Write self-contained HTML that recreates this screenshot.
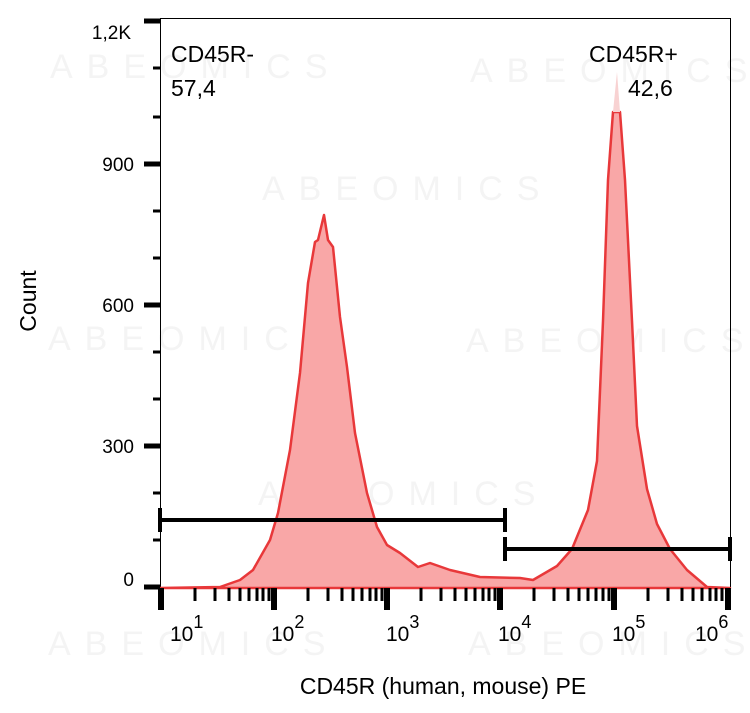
<!DOCTYPE html>
<html><head><meta charset="utf-8"><style>
html,body{margin:0;padding:0;background:#fff;}
svg{display:block;font-family:"Liberation Sans",Arial,sans-serif;}
</style></head><body>
<svg width="750" height="713" viewBox="0 0 750 713" xmlns="http://www.w3.org/2000/svg">
<g fill="#f4f4f4" font-size="34" letter-spacing="14">
<text x="50" y="78">ABEOMICS</text>
<text x="470" y="82">ABEOMICS</text>
<text x="262" y="200">ABEOMICS</text>
<text x="48" y="350">ABEOMICS</text>
<text x="466" y="352">ABEOMICS</text>
<text x="258" y="505">ABEOMICS</text>
<text x="48" y="655">ABEOMICS</text>
<text x="468" y="655">ABEOMICS</text>
</g>
<rect x="160.5" y="18.5" width="570" height="570" fill="none" stroke="#000" stroke-width="1"/>
<path d="M160,588 L220,587 240,580 253,570 270,540 278,513 290,450 300,373 308,283 315,242 318,240 324,215 328,240 333,247 340,317 347,367 355,433 367,493 377,527 387,545 400,553 418,567 430,563 450,570 480,577 520,578 533,580 557,566 572,549 588,510 597,461 603,321 608,180 613,112 620,112 625,180 632,321 637,426 647,489 657,524 670,549 687,570 707,587 730,588 L730,588 Z" fill="#f9a7a7" stroke="#e8383a" stroke-width="2.5" stroke-linejoin="round"/>
<path d="M613,112 L617,72 620,112 Z" fill="#f8d2d2"/>
<g stroke="#000" stroke-width="4">
<line x1="160" y1="520" x2="505" y2="520"/>
<line x1="160" y1="508" x2="160" y2="532"/>
<line x1="505" y1="508" x2="505" y2="532"/>
<line x1="505" y1="549" x2="730" y2="549"/>
<line x1="505" y1="537" x2="505" y2="561"/>
<line x1="730" y1="537" x2="730" y2="561"/>
</g>
<g stroke="#000">
<g stroke-width="5">
<line x1="144" y1="587" x2="160" y2="587"/>
<line x1="144" y1="446" x2="160" y2="446"/>
<line x1="144" y1="305" x2="160" y2="305"/>
<line x1="144" y1="164" x2="160" y2="164"/>
<line x1="144" y1="21" x2="160" y2="21"/>
</g>
<g stroke-width="3">
<line x1="153" y1="540" x2="160" y2="540"/>
<line x1="153" y1="493" x2="160" y2="493"/>
<line x1="153" y1="399" x2="160" y2="399"/>
<line x1="153" y1="352" x2="160" y2="352"/>
<line x1="153" y1="258" x2="160" y2="258"/>
<line x1="153" y1="211" x2="160" y2="211"/>
<line x1="153" y1="117" x2="160" y2="117"/>
<line x1="153" y1="68" x2="160" y2="68"/>
</g>
</g>
<g font-size="19" text-anchor="end" fill="#000">
<text x="134" y="586">0</text>
<text x="134" y="453">300</text>
<text x="134" y="312">600</text>
<text x="134" y="171">900</text>
<text x="131" y="39">1,2K</text>
</g>
<text transform="translate(36,301) rotate(-90)" font-size="23" text-anchor="middle">Count</text>
<g font-size="21" fill="#000">
<text x="170" y="641">10<tspan dy="-13" font-size="18">1</tspan></text>
<text x="271" y="641">10<tspan dy="-13" font-size="18">2</tspan></text>
<text x="386" y="641">10<tspan dy="-13" font-size="18">3</tspan></text>
<text x="498" y="641">10<tspan dy="-13" font-size="18">4</tspan></text>
<text x="612" y="641">10<tspan dy="-13" font-size="18">5</tspan></text>
<text x="695" y="641">10<tspan dy="-13" font-size="18">6</tspan></text>
</g>
<text x="443" y="694" font-size="23" text-anchor="middle">CD45R (human, mouse) PE</text>
<g font-size="23" fill="#000">
<text x="171" y="62">CD45R-</text>
<text x="171" y="96">57,4</text>
<text x="589" y="62">CD45R+</text>
<text x="628" y="96">42,6</text>
</g>
<g stroke="#000">
<g stroke-width="6">
<line x1="161" y1="588" x2="161" y2="610"/>
<line x1="274" y1="588" x2="274" y2="610"/>
<line x1="387" y1="588" x2="387" y2="610"/>
<line x1="500" y1="588" x2="500" y2="610"/>
<line x1="614" y1="588" x2="614" y2="610"/>
<line x1="728" y1="588" x2="728" y2="610"/>
</g>
<path stroke-width="3" d="
M195,588v13 M215,588v13 M229,588v13 M240,588v13 M249,588v13 M257,588v13 M263,588v13 M269,588v13
M308,588v13 M328,588v13 M342,588v13 M353,588v13 M362,588v13 M370,588v13 M376,588v13 M382,588v13
M421,588v13 M441,588v13 M455,588v13 M466,588v13 M475,588v13 M483,588v13 M489,588v13 M495,588v13
M534,588v13 M554,588v13 M568,588v13 M579,588v13 M588,588v13 M596,588v13 M603,588v13 M609,588v13
M648,588v13 M668,588v13 M682,588v13 M693,588v13 M702,588v13 M710,588v13 M716,588v13 M722,588v13"/>
</g>
</svg>
</body></html>
